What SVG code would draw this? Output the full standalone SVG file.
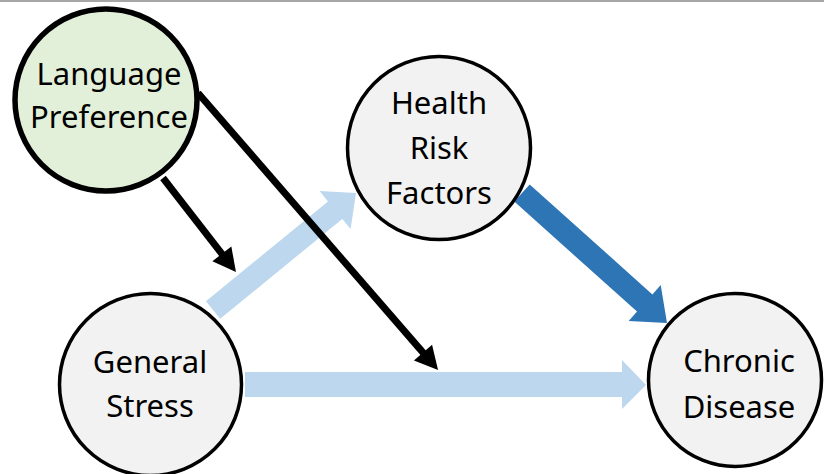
<svg xmlns="http://www.w3.org/2000/svg" width="824" height="474" viewBox="0 0 824 474">
  <style>
    .node { fill: #f2f2f2; stroke: #000; stroke-width: 3.5; }
    .lang { fill: #e2efd9; stroke: #000; stroke-width: 5.5; }
    .lbl { font-family: "Noto Sans", "Open Sans", sans-serif; font-size: 31px; fill: #000; text-anchor: middle; }
    .light { fill: #bdd7ee; }
    .dark { fill: #2e75b6; }
    .blk { stroke: #000; stroke-width: 7; fill: none; marker-end: url(#ah); }
  </style>
  <defs>
    <marker id="ah" markerUnits="userSpaceOnUse" orient="auto" refX="0" refY="0" markerWidth="40" markerHeight="40" overflow="visible">
      <path d="M12,0 L-11,-12 L-11,12 Z" fill="#000"/>
    </marker>
  </defs>
  <rect x="0" y="0" width="824" height="2" fill="#a6a6a6"/>
  <g id="connectors">
    <polygon class="light" points="245,372 622,372 622,360 646,385 622,409 622,397 245,397"/>
    <polygon class="light" points="205.9,301.3 328,201.4 319.6,191.1 356,193 350.6,229.1 342.3,218.9 220.2,318.8"/>
    <polygon class="dark" points="529.7,184.4 652.4,294.4 660.7,285.1 667,323 628.7,320.9 637,311.6 514.3,201.6"/>
    <line class="blk" x1="163" y1="178" x2="228.6" y2="262.5"/>
    <line class="blk" x1="198" y1="93" x2="430.2" y2="360.9"/>
  </g>
  <g id="language-preference">
    <circle class="lang" cx="106" cy="100" r="91"/>
    <text class="lbl" x="109" y="85">Language</text>
    <text class="lbl" x="109" y="128">Preference</text>
  </g>
  <g id="health-risk-factors">
    <circle class="node" cx="439" cy="148" r="91.5"/>
    <text class="lbl" x="439" y="114">Health</text>
    <text class="lbl" x="439" y="159">Risk</text>
    <text class="lbl" x="439" y="204">Factors</text>
  </g>
  <g id="general-stress">
    <circle class="node" cx="150.5" cy="384.5" r="91"/>
    <text class="lbl" x="150" y="373">General</text>
    <text class="lbl" x="150" y="417">Stress</text>
  </g>
  <g id="chronic-disease">
    <circle class="node" cx="735" cy="380" r="86.5"/>
    <text class="lbl" x="739" y="372">Chronic</text>
    <text class="lbl" x="739" y="418">Disease</text>
  </g>
</svg>
